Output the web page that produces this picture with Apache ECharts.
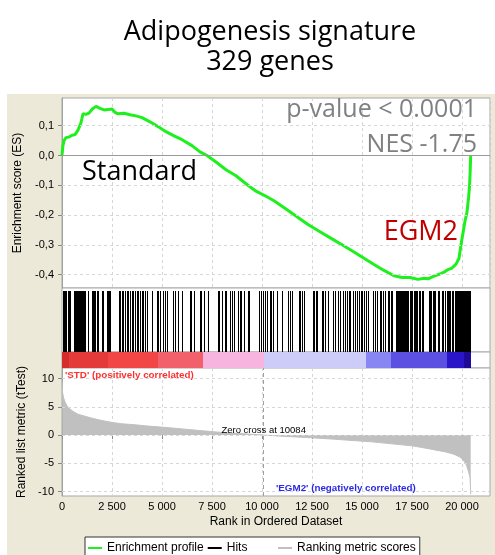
<!DOCTYPE html>
<html>
<head>
<meta charset="utf-8">
<script src="https://cdn.jsdelivr.net/npm/echarts@6/dist/echarts.min.js"></script>
<style>
  html, body { margin: 0; padding: 0; background: #fff; }
  #chart { width: 495px; height: 555px; }
</style>
</head>
<body>
<div id="chart"></div>
<script>
// Running enrichment score along the ranked list: [rank, ES]
const esCurve = [
  [0, 0], [40, 0.03], [100, 0.05], [200, 0.06], [350, 0.062], [500, 0.068], [650, 0.07],
  [800, 0.085], [950, 0.11], [1050, 0.14], [1200, 0.138], [1350, 0.142], [1500, 0.155],
  [1700, 0.165], [1900, 0.158], [2100, 0.153], [2300, 0.154], [2500, 0.156], [2650, 0.145],
  [2800, 0.14], [3100, 0.142], [3400, 0.137], [3700, 0.133], [4000, 0.127], [4400, 0.113],
  [4800, 0.097], [5200, 0.08], [5600, 0.066], [6000, 0.053], [6500, 0.033], [6900, 0.012],
  [7250, 0], [7700, -0.022], [8200, -0.048], [8700, -0.068], [9200, -0.095], [9700, -0.12],
  [10200, -0.137], [10600, -0.152], [11200, -0.18], [11800, -0.208], [12300, -0.232],
  [12900, -0.256], [13500, -0.28], [14000, -0.3], [14600, -0.324], [15100, -0.345],
  [15600, -0.366], [16100, -0.386], [16600, -0.404], [17000, -0.41], [17400, -0.41],
  [17800, -0.416], [18100, -0.412], [18300, -0.414], [18600, -0.405], [18900, -0.398],
  [19100, -0.392], [19300, -0.383], [19500, -0.378], [19700, -0.365], [19850, -0.345],
  [19950, -0.3], [20050, -0.26], [20150, -0.22], [20250, -0.19], [20330, -0.14],
  [20380, -0.1], [20410, -0.05], [20435, 0]
];

// Ranks of the gene-set members in the ordered list
const hitRanks = [
  75, 125, 175, 225, 325, 375, 425,
  625, 675, 725, 775, 825, 875, 925, 975, 1025, 1075, 1125, 1175,
  1325, 1525, 1575, 1625, 1675, 1775, 1825, 2025, 2075, 2275, 2325, 2375, 2425,
  2875, 2925, 3025, 3075, 3175, 3275, 3325, 3425, 3525, 3575, 3675,
  3775, 3825, 3925, 4025, 4075, 4175, 4275, 4525,
  4775, 4825, 4925, 5075, 5175, 5275, 5575, 5675, 5825, 6025,
  6425, 6475, 6625, 6925, 6975, 7125, 7325,
  7825, 7875, 8025, 8175, 8225, 8425, 8525, 8625, 8825,
  8925, 8975, 9125, 9325, 9375,
  9875, 9975, 10075, 10175, 10275, 10425, 10475, 10575, 10775, 11025,
  11325, 11425, 11525, 11875, 11925, 12025, 12125,
  12575, 12625, 12725, 12775, 13025, 13075, 13175, 13325,
  13575, 13675, 13825, 13925,
  14075, 14175, 14275, 14375, 14425, 14575, 14675, 14775,
  14875, 14975, 15025, 15125, 15225, 15325,
  15575, 15675, 15775, 15925, 15975, 16075, 16175,
  16325, 16375, 16475, 16525,
  16725, 16775, 16825, 16875, 16925, 16975, 17025, 17075, 17125, 17175, 17225, 17275, 17325,
  17425, 17475, 17525, 17625, 17675, 17725, 17775, 17875, 17925, 18025, 18075,
  18375, 18425, 18475, 18575, 18625, 18675, 18825, 18875,
  19025, 19075, 19175, 19275, 19325, 19375, 19425, 19525, 19575,
  19675, 19725, 19775, 19825, 19875, 19925, 19975, 20025, 20075, 20125, 20175,
  20225, 20275, 20325, 20375, 20425
];

// Ranked list metric (tTest): [rank, score]
const rankedMetric = [
  [0, 9.5], [30, 7.5], [80, 6.6], [150, 5.9], [250, 5.2], [400, 4.6], [600, 4.1],
  [800, 3.7], [1100, 3.4], [1500, 3.0], [1900, 2.66], [2500, 2.25], [3000, 2.0],
  [3600, 1.85], [4300, 1.6], [5200, 1.36], [6000, 1.1], [6900, 0.8], [7900, 0.5],
  [9000, 0.25], [10084, 0], [11000, -0.2], [12200, -0.42], [13500, -0.7], [14500, -0.95],
  [15500, -1.2], [16500, -1.55], [17500, -1.9], [18000, -2.2], [18600, -2.6], [19200, -3.0],
  [19600, -3.4], [19900, -3.9], [20100, -4.6], [20230, -5.4], [20330, -6.5], [20400, -7.5],
  [20420, -9], [20435, -10.5]
];

// Heat bar along the list: [startRank, endRank, shade]
const heatBands = [
  [0, 350, 0], [350, 2300, 1], [2300, 4800, 2], [4800, 7030, 3], [7030, 10084, 4],
  [10084, 15200, 5], [15200, 16440, 6], [16440, 19250, 7], [19250, 20100, 8], [20100, 20435, 9]
];

const zeroCross = 10084;
const esTicks = [-0.4, -0.3, -0.2, -0.1, 0, 0.1];
const metricTicks = [-10, -5, 0, 5, 10];
const rankTicks = [0, 2500, 5000, 7500, 10000, 12500, 15000, 17500, 20000];
const pValueText = 'p-value < 0.0001';
const nesText = 'NES -1.75';

const heatPalette = ['#d42c2c', '#e43a3a', '#f24646', '#f2606c', '#f6b4de',
                     '#cdccf8', '#8886f2', '#5c50e2', '#2a16c8', '#1e0a98'];

const AX = 'Liberation Sans, Arial, sans-serif';
const gridStyle = { show: true, backgroundColor: '#fff', borderColor: '#a8a8a8', borderWidth: 1 };
const dash = { color: '#d6d6d6', type: [3, 3], width: 1 };
const fmtRank = v => String(v).replace(/\B(?=(\d{3})+(?!\d))/g, ' ');

function xAxisFor(i, shown) {
  return {
    type: 'value', gridIndex: i, min: 0, max: 21400, interval: 2500,
    axisLine: { show: false },
    axisTick: shown ? { show: true, length: 4, customValues: rankTicks, lineStyle: { color: '#888' } } : { show: false },
    axisLabel: shown ? { show: true, customValues: rankTicks, formatter: fmtRank, fontFamily: AX, fontSize: 11, color: '#000', margin: 5 } : { show: false },
    splitLine: { show: i === 0 || i === 3, lineStyle: dash },
    name: shown ? 'Rank in Ordered Dataset' : '',
    nameLocation: 'middle', nameGap: 20,
    nameTextStyle: { fontFamily: AX, fontSize: 12, color: '#000' }
  };
}

const chart = echarts.init(document.getElementById('chart'), null, { renderer: 'canvas' });

chart.setOption({
  animation: false,
  backgroundColor: '#fff',
  grid: [
    Object.assign({ left: 62, top: 98, width: 428, height: 190 }, gridStyle),
    Object.assign({ left: 62, top: 288, width: 428, height: 64 }, gridStyle),
    Object.assign({ left: 62, top: 352, width: 428, height: 16 }, gridStyle),
    Object.assign({ left: 62, top: 368, width: 428, height: 128 }, gridStyle)
  ],
  xAxis: [xAxisFor(0, false), xAxisFor(1, false), xAxisFor(2, false), xAxisFor(3, true)],
  yAxis: [
    {
      type: 'value', gridIndex: 0, min: -0.445, max: 0.193,
      axisLine: { show: true, lineStyle: { color: '#a0a0a0' } },
      axisTick: { show: true, length: 4, customValues: esTicks, lineStyle: { color: '#888' } },
      axisLabel: { customValues: esTicks, formatter: v => v.toFixed(1).replace('.', ','), fontFamily: AX, fontSize: 11, color: '#000', margin: 8 },
      splitLine: { show: false },
      name: 'Enrichment score (ES)', nameLocation: 'middle', nameGap: 29,
      nameTextStyle: { fontFamily: AX, fontSize: 12, color: '#000' }
    },
    { type: 'value', gridIndex: 1, min: 0, max: 1, show: false },
    { type: 'value', gridIndex: 2, min: 0, max: 1, show: false },
    {
      type: 'value', gridIndex: 3, min: -10.8, max: 11.9,
      axisLine: { show: true, lineStyle: { color: '#a0a0a0' } },
      axisTick: { show: true, length: 4, customValues: metricTicks, lineStyle: { color: '#888' } },
      axisLabel: { customValues: metricTicks, fontFamily: AX, fontSize: 11, color: '#000', margin: 8 },
      splitLine: { show: false },
      name: 'Ranked list metric (tTest)', nameLocation: 'middle', nameGap: 29,
      nameTextStyle: { fontFamily: AX, fontSize: 12, color: '#000' }
    }
  ],
  legend: {
    left: 85, top: 537, padding: [5, 4, 5, 3], itemGap: 4,
    itemWidth: 14, itemHeight: 2, icon: 'rect', selectedMode: false,
    backgroundColor: '#fff', borderColor: '#333', borderWidth: 1,
    textStyle: { fontFamily: AX, fontSize: 12, color: '#000' },
    formatter: n => n === 'Hits' ? 'Hits        ' : n,
    data: ['Enrichment profile', 'Hits', 'Ranking metric scores']
  },
  series: [
    {
      // reference lines of the ES panel
      type: 'line', xAxisIndex: 0, yAxisIndex: 0, data: [], z: 1, silent: true,
      markLine: {
        silent: true, symbol: 'none', label: { show: false },
        data: esTicks.map(v => ({ yAxis: v, lineStyle: v === 0 ? { color: '#9a9a9a', type: 'solid', width: 1 } : dash }))
      }
    },
    {
      name: 'Enrichment profile', type: 'line', xAxisIndex: 0, yAxisIndex: 0, z: 3,
      data: esCurve, showSymbol: false, symbol: 'none',
      lineStyle: { color: '#1df01d', width: 3 }, itemStyle: { color: '#1df01d' }
    },
    {
      name: 'Hits', type: 'custom', xAxisIndex: 1, yAxisIndex: 1,
      itemStyle: { color: '#000' },
      data: hitRanks.map(r => [r]),
      encode: { x: 0 },
      renderItem: (params, api) => {
        const top = api.coord([api.value(0), 0.953]);
        const bottom = api.coord([api.value(0), 0]);
        return {
          type: 'rect',
          shape: { x: Math.floor(top[0]), y: top[1], width: 1, height: bottom[1] - top[1] },
          style: { fill: '#000' }
        };
      }
    },
    {
      type: 'custom', xAxisIndex: 2, yAxisIndex: 2, silent: true,
      data: heatBands, encode: { x: [0, 1] },
      renderItem: (params, api) => {
        const a = api.coord([api.value(0), 1]);
        const b = api.coord([api.value(1), 0]);
        const x0 = Math.round(a[0]), x1 = Math.round(b[0]);
        return {
          type: 'rect',
          shape: { x: x0, y: a[1], width: x1 - x0, height: b[1] - a[1] },
          style: { fill: heatPalette[api.value(2)] }
        };
      }
    },
    {
      // reference lines of the metric panel
      type: 'line', xAxisIndex: 3, yAxisIndex: 3, data: [], z: 1, silent: true,
      markLine: {
        silent: true, symbol: 'none', label: { show: false },
        data: metricTicks.map(v => ({ yAxis: v, lineStyle: dash }))
          .concat([{ xAxis: zeroCross, lineStyle: { color: '#a0a0a0', type: [4, 3], width: 1 } }])
      }
    },
    {
      name: 'Ranking metric scores', type: 'line', xAxisIndex: 3, yAxisIndex: 3, z: 2,
      data: rankedMetric, showSymbol: false, symbol: 'none',
      lineStyle: { color: '#c0c0c0', width: 1 }, itemStyle: { color: '#c0c0c0' },
      areaStyle: { color: '#c0c0c0', opacity: 1 },
      markPoint: {
        symbol: 'circle', symbolSize: 0, silent: true,
        data: [{ coord: [zeroCross, 0] }],
        label: {
          show: true, position: 'top', distance: 0,
          formatter: 'Zero cross at ' + zeroCross,
          fontFamily: AX, fontSize: 9.5, color: '#000'
        }
      }
    }
  ],
  graphic: [
    { type: 'rect', z: -10, silent: true, shape: { x: 7, y: 94, width: 488, height: 461 }, style: { fill: '#ece9d8' } },
    { type: 'text', x: 270, y: 32, style: { text: 'Adipogenesis signature', align: 'center', verticalAlign: 'middle', font: '27px "Open Sans"', fill: '#000' } },
    { type: 'text', x: 270, y: 62, style: { text: '329 genes', align: 'center', verticalAlign: 'middle', font: '27px "Open Sans"', fill: '#000' } },
    { type: 'text', x: 477, y: 110, z: 10, style: { text: pValueText, align: 'right', verticalAlign: 'middle', font: '25px "Open Sans"', fill: '#808080' } },
    { type: 'text', x: 477, y: 145, z: 10, style: { text: nesText, align: 'right', verticalAlign: 'middle', font: '25px "Open Sans"', fill: '#808080' } },
    { type: 'text', x: 82, y: 172, z: 10, style: { text: 'Standard', align: 'left', verticalAlign: 'middle', font: '27px "Open Sans"', fill: '#000' } },
    { type: 'text', x: 458, y: 232, z: 10, style: { text: 'EGM2', align: 'right', verticalAlign: 'middle', font: '27px "Open Sans"', fill: '#c00000' } },
    { type: 'text', x: 65, y: 375, z: 10, style: { text: "'STD' (positively correlated)", align: 'left', verticalAlign: 'middle', font: 'bold 9.8px "Liberation Sans"', fill: '#ff3030' } },
    { type: 'text', x: 276, y: 488, z: 10, style: { text: "'EGM2' (negatively correlated)", align: 'left', verticalAlign: 'middle', font: 'bold 9.8px "Liberation Sans"', fill: '#2a2ae6' } }
  ]
});
</script>
</body>
</html>
